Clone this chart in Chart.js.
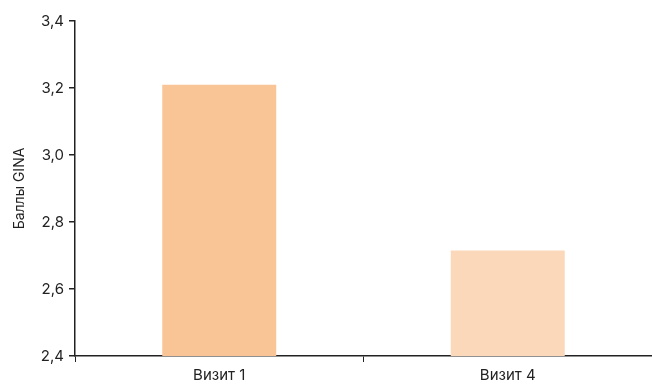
<!DOCTYPE html>
<html><head><meta charset="utf-8">
<script src="https://cdn.jsdelivr.net/npm/chart.js@4"></script>
<style>html,body{margin:0;padding:0;background:#fff;}#wrap{width:652px;height:387px;}</style>
</head><body><div id="wrap"><canvas id="c" width="652" height="387"></canvas></div>
<script>
const categories = ["Визит 1", "Визит 4"];
const values = [3.21, 2.715];
const barColors = ["#F9C496", "#FBD8B9"];
const yTicks = [2.4, 2.6, 2.8, 3.0, 3.2, 3.4];
const yTitle = "Баллы GINA";

const font = {family: "Inter, 'Open Sans', sans-serif", size: 15};
new Chart(document.getElementById('c'), {
  type: 'bar',
  data: {labels: categories, datasets: [{data: values, backgroundColor: barColors, barPercentage: 0.79, categoryPercentage: 0.5}]},
  options: {
    responsive: false, animation: false, devicePixelRatio: 1,
    layout: {padding: {top: 21, right: 0, left: 0, bottom: 0}},
    plugins: {legend: {display: false}, tooltip: {enabled: false}},
    scales: {
      x: {
        grid: {display: true, drawOnChartArea: false, offset: true, tickLength: 6, color: '#222', lineWidth: 1},
        border: {color: '#222', width: 1.5},
        ticks: {color: '#222', font: font, padding: 4},
        afterFit: s => { s.height = 31; }
      },
      y: {
        min: 2.4, max: 3.4,
        afterBuildTicks: s => { s.ticks = yTicks.map(v => ({value: v})); },
        grid: {display: true, drawOnChartArea: false, tickLength: 6, color: '#222', lineWidth: 1.5},
        border: {color: '#222', width: 1.5},
        ticks: {color: '#222', font: font, padding: 5, callback: v => v.toFixed(1).replace('.', ',')},
        title: {display: true, text: yTitle, color: '#222', font: {family: font.family, size: 14}, padding: {top: 11, bottom: 0}},
        afterFit: s => { s.width = 75; }
      }
    }
  }
});
</script></body></html>
